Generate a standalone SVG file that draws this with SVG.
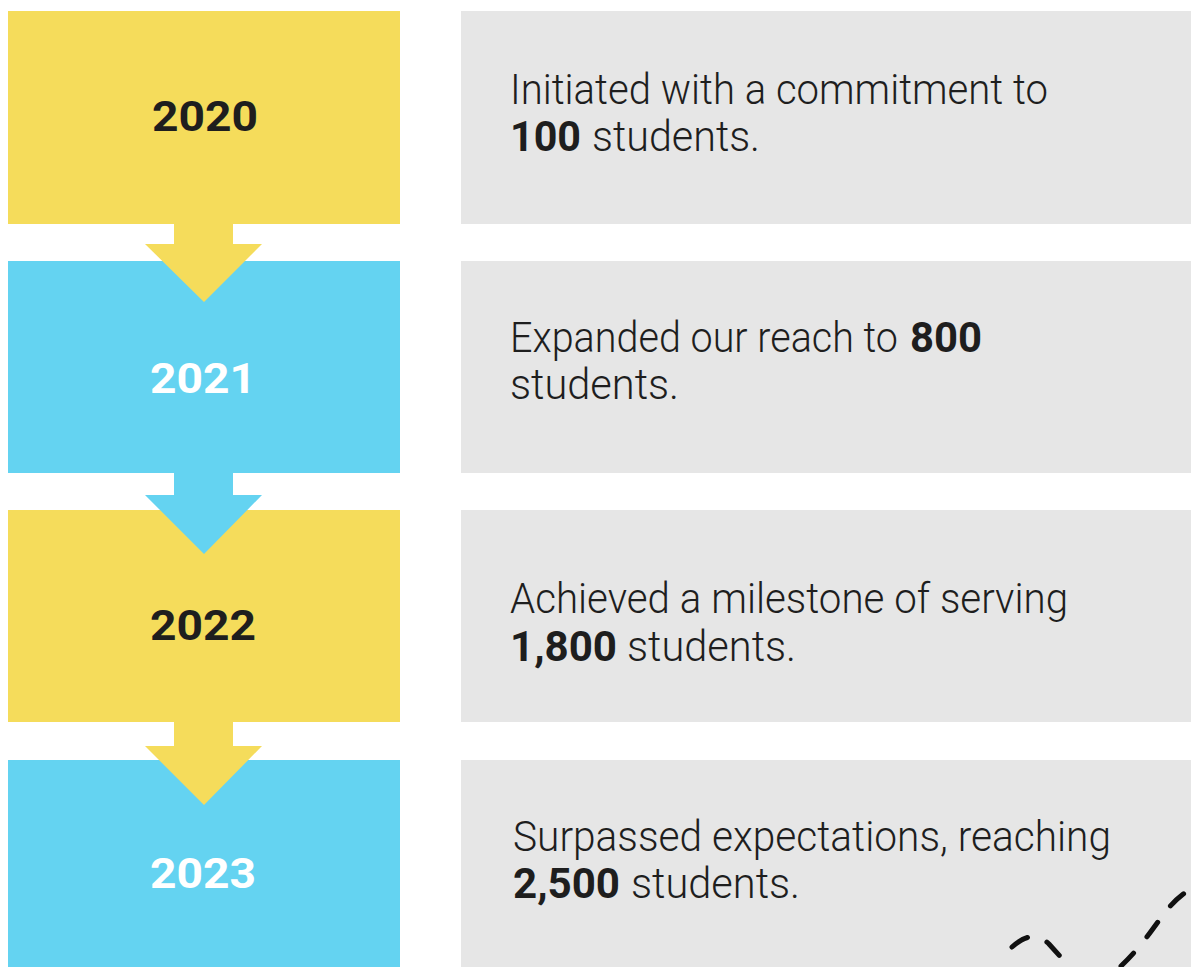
<svg xmlns="http://www.w3.org/2000/svg" width="1191" height="967" viewBox="0 0 1191 967">
<style>
.y{fill:#F5DC5B}
.b{fill:#64D3F1}
.g{fill:#E6E6E6}
.yr{font-family:Roboto,"Liberation Sans",sans-serif;font-weight:700;font-size:42px;text-anchor:middle}
.d{font-family:Roboto,"Liberation Sans",sans-serif;font-weight:300;font-size:42px;fill:#1E1E1E}
.n{font-family:Roboto,"Liberation Sans",sans-serif;font-weight:700;font-size:42px;fill:#1E1E1E}
.dash{fill:none;stroke:#111;stroke-width:5;stroke-linecap:round;stroke-dasharray:18 21}
</style>
<rect width="1191" height="967" fill="#FFFFFF"/>
<g id="node-2020">
<rect class="y" x="8" y="11" width="392" height="213"/>
<text class="yr" x="205" y="131" fill="#1E1E1E" textLength="106" lengthAdjust="spacingAndGlyphs">2020</text>
</g>
<g id="desc-2020">
<rect class="g" x="461" y="11" width="730" height="213"/>
<text class="d" x="510" y="104" textLength="538" lengthAdjust="spacingAndGlyphs">Initiated with a commitment to</text>
<text class="n" x="510" y="151" textLength="71" lengthAdjust="spacingAndGlyphs">100</text>
<text class="d" x="592" y="151" textLength="168" lengthAdjust="spacingAndGlyphs">students.</text>
</g>
<g id="node-2021">
<rect class="b" x="8" y="261" width="392" height="212"/>
<text class="yr" x="203" y="393" fill="#FFFFFF" textLength="106" lengthAdjust="spacingAndGlyphs">2021</text>
</g>
<g id="desc-2021">
<rect class="g" x="461" y="261" width="730" height="212"/>
<text class="d" x="510" y="352" textLength="388" lengthAdjust="spacingAndGlyphs">Expanded our reach to</text>
<text class="n" x="910" y="352" textLength="72" lengthAdjust="spacingAndGlyphs">800</text>
<text class="d" x="510" y="399" textLength="169" lengthAdjust="spacingAndGlyphs">students.</text>
</g>
<g id="node-2022">
<rect class="y" x="8" y="510" width="392" height="212"/>
<text class="yr" x="203" y="640" fill="#1E1E1E" textLength="106" lengthAdjust="spacingAndGlyphs">2022</text>
</g>
<g id="desc-2022">
<rect class="g" x="461" y="510" width="730" height="212"/>
<text class="d" x="510" y="613" textLength="558" lengthAdjust="spacingAndGlyphs">Achieved a milestone of serving</text>
<text class="n" x="510" y="661" textLength="107" lengthAdjust="spacingAndGlyphs">1,800</text>
<text class="d" x="627" y="661" textLength="169" lengthAdjust="spacingAndGlyphs">students.</text>
</g>
<g id="node-2023">
<rect class="b" x="8" y="760" width="392" height="207"/>
<text class="yr" x="203" y="888" fill="#FFFFFF" textLength="106" lengthAdjust="spacingAndGlyphs">2023</text>
</g>
<g id="desc-2023">
<rect class="g" x="461" y="760" width="730" height="207"/>
<text class="d" x="513" y="851" textLength="598" lengthAdjust="spacingAndGlyphs">Surpassed expectations, reaching</text>
<text class="n" x="513" y="898" textLength="107" lengthAdjust="spacingAndGlyphs">2,500</text>
<text class="d" x="631" y="898" textLength="169" lengthAdjust="spacingAndGlyphs">students.</text>
</g>
<g id="connectors">
<polygon class="y" points="174,223 233,223 233,244 262,244 204,302 145,244 174,244"/>
<polygon class="b" points="174,472 233,472 233,495 262,495 204,554 145,495 174,495"/>
<polygon class="y" points="174,721 233,721 233,746 262,746 204,805 145,746 174,746"/>
</g>
<g id="decoration">
<path class="dash" d="M1012,947 Q1022,938 1030,937 Q1041,936 1049,944 L1078,976"/>
<path class="dash" d="M1121,966 C1140,948 1152,930 1163,915 C1172,903 1180,895 1198,884"/>
</g>
</svg>
